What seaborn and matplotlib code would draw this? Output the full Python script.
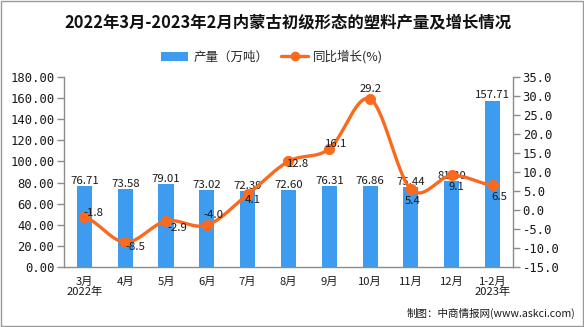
import numpy as np
import pandas as pd
import matplotlib
matplotlib.use("Agg")
import matplotlib.pyplot as plt
import seaborn as sns
from matplotlib.patches import Patch, Rectangle
from matplotlib.lines import Line2D

categories = ["3月\n2022年", "4月", "5月", "6月", "7月", "8月", "9月", "10月", "11月", "12月", "1-2月\n2023年"]
production = [76.71, 73.58, 79.01, 73.02, 72.39, 72.60, 76.31, 76.86, 75.44, 81.30, 157.71]
growth = [-1.8, -8.5, -2.9, -4.0, 4.1, 12.8, 16.1, 29.2, 5.4, 9.1, 6.5]
left_ticks = [0, 20, 40, 60, 80, 100, 120, 140, 160, 180]
right_ticks = [-15, -10, -5, 0, 5, 10, 15, 20, 25, 30, 35]

title = "2022年3月-2023年2月内蒙古初级形态的塑料产量及增长情况"
bar_name = "产量（万吨）"
line_name = "同比增长(%)"
source = "制图：中商情报网(www.askci.com)"

sns.set_style("white")
MONO = ["DejaVu Sans Mono", "Noto Sans CJK SC"]
CJK = ["Noto Sans CJK SC", "DejaVu Sans"]
plt.rcParams["font.family"] = MONO

BAR_C = "#3D9CF0"
LINE_C = "#FA6A1E"
GRAY = "#8C8C8C"
TXT = "#1a1a1a"

fig = plt.figure(figsize=(5.84, 3.27), dpi=100)
fig.patch.set_facecolor("white")
fig.patches.append(Rectangle((0.001, 0.002), 0.997, 0.995, transform=fig.transFigure,
                             fill=False, edgecolor="#9a9a9a", linewidth=1.0))
ax = fig.add_axes([0.1096, 0.1835, 0.7688, 0.581])

df = pd.DataFrame({"cat": categories, "prod": production, "growth": growth})
sns.barplot(data=df, x="cat", y="prod", color=BAR_C, width=0.37, ax=ax,
            saturation=1, edgecolor="none")
ax.set_xlim(-0.5, len(categories) - 0.5)
ax.set_ylim(0, 180)
ax.set_yticks(left_ticks)
ax.set_yticklabels([f"{v:.2f}" for v in left_ticks], fontsize=8.8, color=TXT)
ax.set_xlabel("")
ax.set_ylabel("")
ax.set_xticks(range(len(categories)))
ax.set_xticklabels(categories, fontsize=8.1, linespacing=1.0, family=CJK, color=TXT)
ax.tick_params(axis="x", length=0, pad=7)
ax.set_xticks(np.arange(-0.5, len(categories), 1.0), minor=True)
ax.tick_params(axis="x", which="minor", length=5, color=GRAY, width=1)
ax.tick_params(axis="y", length=5, color=GRAY, width=1, pad=2)
for s in ["top", "right"]:
    ax.spines[s].set_visible(False)
for s in ["left", "bottom"]:
    ax.spines[s].set_color(GRAY)
    ax.spines[s].set_linewidth(1)

for i, v in enumerate(production):
    ax.annotate(f"{v:.2f}", (i, v), xytext=(0, 1.5), textcoords="offset points",
                ha="center", va="baseline", fontsize=8.2, color=TXT, family=CJK)

ax2 = ax.twinx()
ax2.set_ylim(-15, 35)
ax2.set_yticks(right_ticks)
ax2.set_yticklabels([f"{v:.1f}" for v in right_ticks], fontsize=8.8, color=TXT)
ax2.tick_params(axis="y", length=5, color=GRAY, width=1, pad=2)
for s in ["top", "left", "bottom"]:
    ax2.spines[s].set_visible(False)
ax2.spines["right"].set_color(GRAY)
ax2.spines["right"].set_linewidth(1)

# smooth curve (Catmull-Rom) through the data points, for display only
x = np.arange(len(growth), dtype=float)
y = np.array(growth, dtype=float)
P = np.concatenate([[y[0]], y, [y[-1]]])
xs, ys = [], []
for k in range(len(y) - 1):
    t = np.linspace(0, 1, 30)
    p0, p1, p2, p3 = P[k], P[k + 1], P[k + 2], P[k + 3]
    yy = 0.5 * ((2 * p1) + (-p0 + p2) * t + (2 * p0 - 5 * p1 + 4 * p2 - p3) * t ** 2
                + (-p0 + 3 * p1 - 3 * p2 + p3) * t ** 3)
    xs.append(x[k] + t)
    ys.append(yy)
ax2.plot(np.concatenate(xs), np.concatenate(ys), color=LINE_C, linewidth=2.4, zorder=3)
sns.scatterplot(x=x, y=y, color=LINE_C, s=55, edgecolor=LINE_C, ax=ax2, zorder=4, legend=False)

offsets = [(6.5, 3), (7, -3.6), (8, -5), (5, 7), (3.6, -4.3), (7, -2), (5, 3.6),
           (0, 7), (1.5, -8), (3.6, -8.6), (5, -8.6)]
for i, v in enumerate(growth):
    dx, dy = offsets[i]
    ax2.annotate(f"{v:.1f}", (i, v), xytext=(dx, dy), textcoords="offset points",
                 ha="center", va="center", fontsize=8.2, color=TXT, family=CJK, zorder=5)

fig.text(0.493, 0.931, title, ha="center", va="center", fontsize=11.8,
         fontweight="bold", family=CJK, color="#111111")

handles = [Patch(facecolor=BAR_C, edgecolor="none"),
           Line2D([0], [0], color=LINE_C, linewidth=2.4, marker="o", markersize=6)]
leg = fig.legend(handles, [bar_name, line_name], loc="center", bbox_to_anchor=(0.466, 0.826),
                 ncol=2, frameon=False, prop={"family": CJK, "size": 9},
                 handlelength=2.2, handleheight=0.65, columnspacing=1.0, handletextpad=0.4)

fig.text(0.985, 0.043, source, ha="right", va="center", fontsize=7.6, color=TXT, family=CJK)

fig.savefig("out.png", dpi=100)
